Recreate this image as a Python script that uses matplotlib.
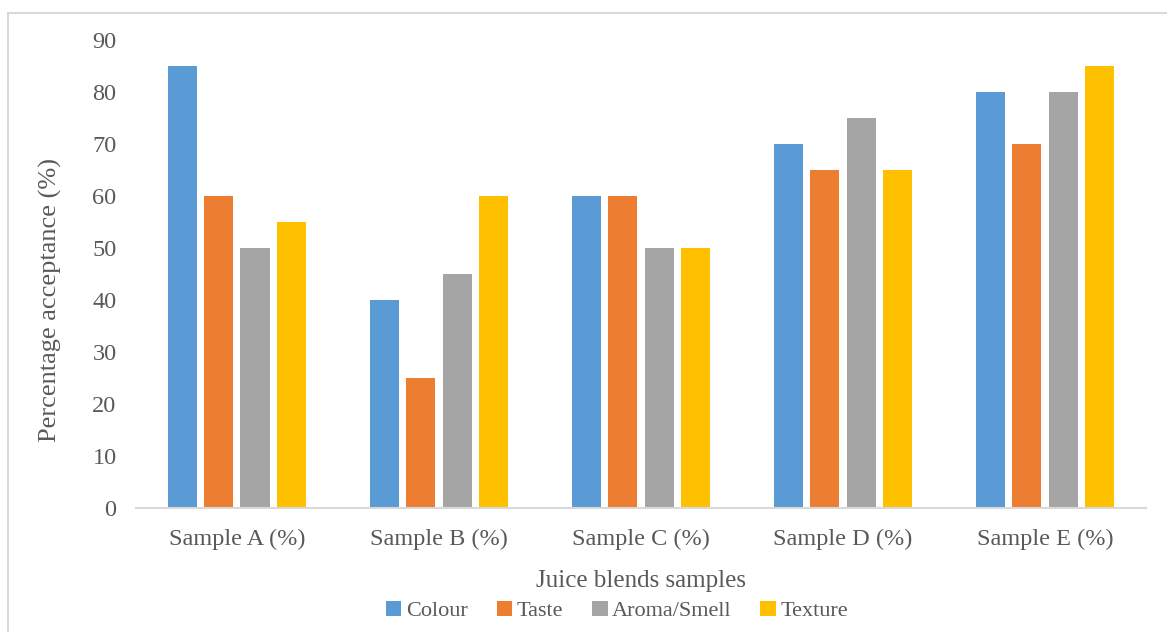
import matplotlib.pyplot as plt
import numpy as np
from matplotlib.patches import Rectangle

# Data
samples = ['Sample A (%)', 'Sample B (%)', 'Sample C (%)', 'Sample D (%)', 'Sample E (%)']
colour = [85, 40, 60, 70, 80]
taste = [60, 25, 60, 65, 70]
aroma = [50, 45, 50, 75, 80]
texture = [55, 60, 50, 65, 85]
series_names = ['Colour', 'Taste', 'Aroma/Smell', 'Texture']
colors = ['#5B9BD5', '#ED7D31', '#A5A5A5', '#FFC000']
yticks = [0, 10, 20, 30, 40, 50, 60, 70, 80, 90]

plt.rcParams['font.family'] = ['Liberation Serif', 'DejaVu Serif']
text_color = '#595959'

fig = plt.figure(figsize=(11.67, 6.32), dpi=100)
ax = fig.add_axes([0.1165, 0.196, 0.8655, 0.741])

# outer chart border
fig.patches.append(Rectangle((8 / 1167, -0.05), 1.2, 1 - 13 / 632 + 0.05,
                             transform=fig.transFigure, fill=False,
                             edgecolor='#D9D9D9', linewidth=1.5))

x = np.arange(len(samples))
step = 0.18
width = 0.145
for i, (vals, name) in enumerate(zip([colour, taste, aroma, texture], series_names)):
    ax.bar(x + (i - 1.5) * step, vals, width=width, color=colors[i], label=name)

ax.set_xlim(-0.5, len(samples) - 0.5)
ax.set_ylim(0, 90)
ax.set_yticks(yticks)
ax.set_xticks(x)
ax.set_xticklabels(samples)
ax.tick_params(axis='both', length=0, labelsize=17.5, labelcolor=text_color)
ax.tick_params(axis='y', pad=14)
ax.tick_params(axis='x', pad=15)

for s in ['top', 'right', 'left']:
    ax.spines[s].set_visible(False)
ax.spines['bottom'].set_color('#D9D9D9')
ax.spines['bottom'].set_linewidth(1.5)

ax.set_xlabel('Juice blends samples', fontsize=18, color=text_color, labelpad=14)
ax.set_ylabel('Percentage acceptance (%)', fontsize=19, color=text_color)
ax.yaxis.set_label_coords(-0.073, 0.444)

fig.legend(loc='center', bbox_to_anchor=(617 / 1167, 1 - 611 / 632), ncol=4,
           frameon=False, fontsize=16, labelcolor=text_color,
           handlelength=0.7, handleheight=0.7, handletextpad=0.2, columnspacing=1.3)

fig.savefig('out.png', dpi=100)
